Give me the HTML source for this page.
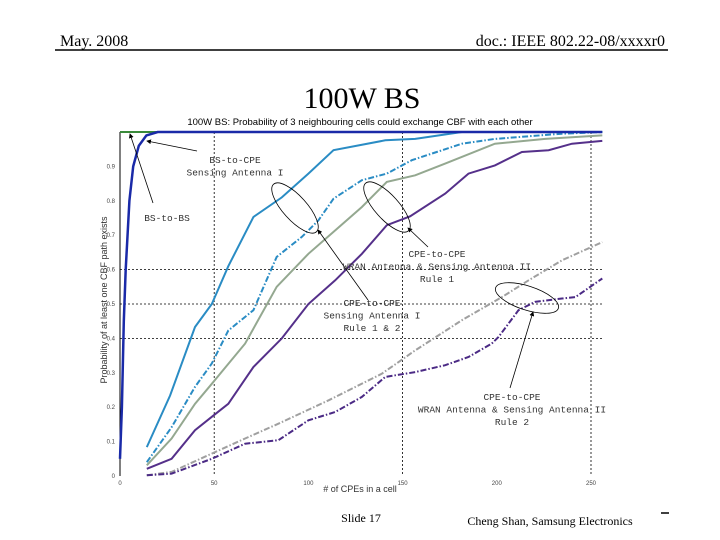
<!DOCTYPE html>
<html><head><meta charset="utf-8"><style>
body{margin:0;width:720px;height:540px;background:#fff;overflow:hidden;font-family:"Liberation Serif",serif}
svg{position:absolute;left:0;top:0}
</style></head><body>
<svg width="720" height="540">
<text x="60" y="46" font-size="16">May. 2008</text>
<text x="665" y="46" font-size="16" text-anchor="end">doc.: IEEE 802.22-08/xxxxr0</text>
<line x1="55" y1="50" x2="668" y2="50" stroke="#000" stroke-width="1.5"/>
<text x="362" y="108" font-size="30" text-anchor="middle">100W BS</text>
<text x="361" y="522" font-size="12" text-anchor="middle">Slide 17</text>
<text x="550" y="525" font-size="12" text-anchor="middle">Cheng Shan, Samsung Electronics</text>
<line x1="661" y1="513" x2="669" y2="513" stroke="#000" stroke-width="1.5"/>
<g id="chart"></g>
</svg>
<script>
const xTicks=[0,50,100,150,200,250];
const yTicks=[0,0.1,0.2,0.3,0.4,0.5,0.6,0.7,0.8,0.9];
const yTickLabels=["0","0.1","0.2","0.3","0.4","0.5","0.6","0.7","0.8","0.9"];
const bsToBsX=[0,1,2,3,5,7,10,14,20,256];
const bsToBsY=[0.05,0.2,0.45,0.6,0.8,0.9,0.96,0.99,1.0,1.0];
const bsToCpeX=[14.2,26.6,39.8,48.7,57.5,70.8,85.9,100,113.3,140.8,156.7,181.5,256];
const bsToCpeY=[0.084,0.234,0.433,0.5,0.61,0.753,0.81,0.879,0.947,0.976,0.98,1.0,1.0];
const cpeSensX=[14.2,27.4,39.8,48.7,57.5,70.8,83.2,96.5,105.3,113.3,128.4,141.6,154.9,181.5,199,234.6,256];
const cpeSensY=[0.04,0.142,0.259,0.327,0.423,0.482,0.637,0.695,0.743,0.806,0.86,0.879,0.918,0.966,0.98,0.995,1.0];
const rule1GrayX=[14.2,27.4,39.8,48.7,66.4,83.2,100,114.2,128.4,141.6,156.7,172.6,199,225.7,256];
const rule1GrayY=[0.031,0.109,0.21,0.268,0.385,0.55,0.646,0.714,0.782,0.855,0.874,0.908,0.966,0.98,0.99];
const rule1PurpleX=[14.2,27.4,39.8,48.7,57.5,70.8,85.9,100,114.2,128.4,141.6,154,172.6,185,199,213.3,227.5,239.9,256];
const rule1PurpleY=[0.021,0.05,0.133,0.172,0.21,0.317,0.4,0.5,0.569,0.646,0.729,0.755,0.821,0.879,0.903,0.942,0.947,0.966,0.974];
const rule2GrayX=[14.2,27.4,48.7,66.4,84.1,110.7,138.9,156.7,181.5,202.7,216.9,234.6,256];
const rule2GrayY=[0.002,0.012,0.065,0.109,0.152,0.22,0.297,0.365,0.453,0.52,0.569,0.627,0.68];
const rule2PurpleX=[14.2,27.4,48.7,66.4,84.1,100,114.2,128.4,140.8,156.7,172.6,185,197.3,200.9,211.5,220.3,234.6,241.7,256];
const rule2PurpleY=[0.002,0.007,0.05,0.094,0.104,0.162,0.186,0.23,0.288,0.302,0.322,0.346,0.385,0.404,0.482,0.506,0.516,0.52,0.574];

const NS="http://www.w3.org/2000/svg";
const g=document.getElementById('chart');
const X=v=>120+v*(591-120)/250;
const Y=v=>476-v*344;
function mk(t,a,p){const e=document.createElementNS(NS,t);for(const k in a)e.setAttribute(k,a[k]);(p||g).appendChild(e);return e;}
// plot area
let r=mk('rect',{x:X(0),y:Y(1),width:X(256)-X(0),height:Y(0)-Y(1),fill:'#fff',stroke:'none'});


// grid
[50,150,250].forEach(v=>{const l=mk('line',{x1:X(v),y1:Y(1),x2:X(v),y2:Y(0),stroke:'#000','stroke-width':0.8,'stroke-dasharray':'2,2'});

});
[0.4,0.5,0.6].forEach(v=>{const l=mk('line',{x1:X(0),y1:Y(v),x2:X(256),y2:Y(v),stroke:'#000','stroke-width':0.8,'stroke-dasharray':'2,2'});

});
let ax=mk('line',{x1:X(0),y1:Y(0),x2:X(0),y2:Y(1),stroke:'#000','stroke-width':1});


let tl=mk('line',{x1:X(0),y1:Y(1),x2:X(256),y2:Y(1),stroke:'#3a8a3a','stroke-width':2});


xTicks.forEach(v=>{const t=mk('text',{x:X(v),y:Y(0)+9,'font-size':6,'text-anchor':'middle','font-family':'Liberation Sans, sans-serif',fill:'#444'});t.textContent=v;

});
yTicks.forEach((v,i)=>{const t=mk('text',{x:X(0)-5,y:Y(v)+2,'font-size':6,'text-anchor':'end','font-family':'Liberation Sans, sans-serif',fill:'#444'});t.textContent=yTickLabels[i];

});
let ct=mk('text',{x:360,y:125,'font-size':9.5,'text-anchor':'middle','font-family':'Liberation Sans, sans-serif'});ct.textContent='100W BS: Probability of 3 neighbouring cells could exchange CBF with each other';


let xl=mk('text',{x:360,y:492,'font-size':9,'text-anchor':'middle','font-family':'Liberation Sans, sans-serif',fill:'#333'});xl.textContent='# of CPEs in a cell';


let yl=mk('text',{x:0,y:0,'font-size':9,'text-anchor':'middle','font-family':'Liberation Sans, sans-serif',fill:'#333',transform:'translate(107,300) rotate(-90)'});yl.textContent='Probability of at least one CBF path exists';


function series(xs,ys,col,w,dash,name){const d=xs.map((x,i)=>(i?'L':'M')+X(x).toFixed(1)+','+Y(ys[i]).toFixed(1)).join('');
const p=mk('path',{d:d,fill:'none',stroke:col,'stroke-width':w});if(dash)p.setAttribute('stroke-dasharray',dash);

}
series(bsToCpeX,bsToCpeY,'#2a8cc4',2,null,'bs-to-cpe-line');
series(cpeSensX,cpeSensY,'#2a8cc4',2,'6,2,1.5,2','cpe-sensing-i-line');
series(rule1GrayX,rule1GrayY,'#94a890',2,null,'rule1-gray-line');
series(rule1PurpleX,rule1PurpleY,'#55308a',2,null,'rule1-purple-line');
series(rule2GrayX,rule2GrayY,'#a0a0a0',2,'6,2,1.5,2','rule2-gray-line');
series(rule2PurpleX,rule2PurpleY,'#4b2a85',2,'6,2,1.5,2','rule2-purple-line');
series(bsToBsX,bsToBsY,'#1a2aa8',2.5,null,'bs-to-bs-line');
// annotations
const defs=mk('defs',{});const m=mk('marker',{id:'ah',markerWidth:6,markerHeight:6,refX:5,refY:3,orient:'auto'},defs);mk('path',{d:'M0,0L6,3L0,6z',fill:'#000'},m);
function arrow(x1,y1,x2,y2,n){const l=mk('line',{x1,y1,x2,y2,stroke:'#000','stroke-width':0.8,'marker-end':'url(#ah)'});

}
function ell(cx,cy,rx,ry,a,n){const e=mk('ellipse',{cx,cy,rx,ry,fill:'none',stroke:'#000','stroke-width':0.8,transform:`rotate(${a} ${cx} ${cy})`});

}
function label(x,y,lines,n){lines.forEach((s,i)=>{const t=mk('text',{x,y:y+i*12.5,'font-size':9.5,'text-anchor':'middle','font-family':'Liberation Mono, monospace',fill:'#333'});t.textContent=s;

});}
arrow(197,151,147,141,'bs-to-cpe-arrow');
arrow(153,203,130,134,'bs-to-bs-arrow');
ell(295,208,32,12,48,'sensing-ellipse');
ell(387,207,32,12,48,'rule1-ellipse');
ell(527,298,33,12,18,'rule2-ellipse');
arrow(368,300,318,230,'sensing-arrow');
arrow(428,247,408,228,'rule1-arrow');
arrow(510,388,533,312,'rule2-arrow');
label(235,163,['BS-to-CPE','Sensing Antenna I'],'bs-to-cpe-label');
label(167,221,['BS-to-BS'],'bs-to-bs-label');
label(372,306,['CPE-to-CPE','Sensing Antenna I','Rule 1 & 2'],'sensing-label');
label(437,257,['CPE-to-CPE','WRAN Antenna & Sensing Antenna II','Rule 1'],'rule1-label');
label(512,400,['CPE-to-CPE','WRAN Antenna & Sensing Antenna II','Rule 2'],'rule2-label');
</script>
</body></html>
